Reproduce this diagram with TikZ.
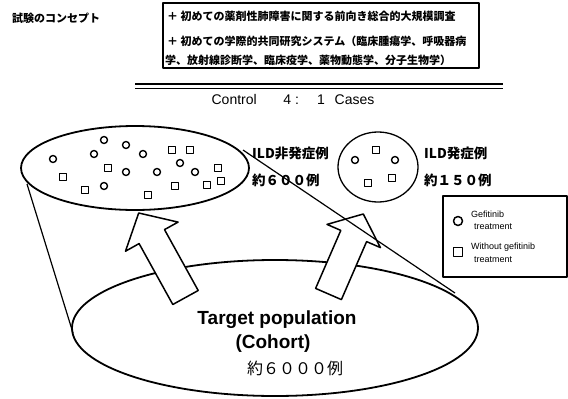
\documentclass[tikz,border=0pt]{standalone}
\usepackage{fontspec}
\setmainfont{Liberation Sans}
\newfontfamily\jp{Noto Sans CJK JP}
\begin{document}
\begin{tikzpicture}[x=1pt,y=-1pt,line join=round,
  mc/.style={circle,draw,line width=1.4pt,minimum size=7pt,inner sep=0pt},
  ms/.style={rectangle,draw,line width=1.4pt,minimum size=7pt,inner sep=0pt},
  lc/.style={circle,draw,line width=1.5pt,minimum size=9pt,inner sep=0pt},
  ls/.style={rectangle,draw,line width=1.5pt,minimum size=9pt,inner sep=0pt},
  blockarrow/.style={draw,fill=white,line width=1.5pt},
  jptxt/.style={anchor=west,inner sep=0pt,font=\jp\bfseries\fontsize{11}{13}\selectfont},
  lbl/.style={anchor=west,inner sep=0pt,font=\jp\bfseries\fontsize{13.5}{15}\selectfont},
  leg/.style={anchor=west,inner sep=0pt,font=\fontsize{9}{10}\selectfont},
  cone/.style={line width=1.2pt}]
\useasboundingbox (0,0) rectangle (568,399);

% header
\node[jptxt] (title) at (12,18) {試験のコンセプト};
\draw[line width=1.5pt] (163,3) rectangle (479,68);
\node[jptxt] (l1) at (167,16) {＋ 初めての薬剤性肺障害に関する前向き総合的大規模調査};
\node[jptxt] (l2) at (167,41) {＋ 初めての学際的共同研究システム（臨床腫瘍学、呼吸器病};
\node[jptxt] (l3) at (165,60) {学、放射線診断学、臨床疫学、薬物動態学、分子生物学）};

% double rule
\coordinate (r1a) at (135,84); \coordinate (r1b) at (503,84);
\coordinate (r2a) at (135,88); \coordinate (r2b) at (503,88);
\draw[line width=1.5pt] (r1a) -- (r1b);
\draw[line width=0.7pt] (r2a) -- (r2b);
\node[inner sep=0pt,font=\fontsize{14}{16}\selectfont] (ctrl) at (293,99) {Control\hspace{1.9em}4 :\hspace{1.3em}1\hspace{0.7em}Cases};

% bottom ellipse (population)
\draw[line width=1.8pt] (275,328) ellipse [x radius=203, y radius=68];

% ILD non-onset group
\draw[line width=1.8pt] (135,168) ellipse [x radius=114, y radius=42];
% small circle ILD onset group
\draw[line width=1.3pt] (378,167) ellipse [x radius=40, y radius=35];

% cone lines
\coordinate (ca) at (27,184); \coordinate (cb) at (73,333);
\draw[cone] (ca) -- (cb);

% markers in big ellipse
\foreach \p [count=\i] in {(53,159),(104,140),(126,145),(94,154),(143,154),(180,163),(126,172),(157,172),(195,172),(104,186)}
  \node[mc] (m\i) at \p {};
\foreach \p [count=\i] in {(172,150),(190,150),(108,168),(63,177),(218,168),(175,186),(207,185),(221,181),(85,190),(148,195)}
  \node[ms] (q\i) at \p {};
% markers in small circle
\node[mc] (sc1) at (355,160) {};
\node[mc] (sc2) at (395,160) {};
\node[ms] (sq1) at (376,150) {};
\node[ms] (sq2) at (392,178) {};
\node[ms] (sq3) at (368,183) {};

% block arrows
\draw[blockarrow] (138.7,213) -- (178.1,222.1) -- (164.5,229.6) -- (198.2,290.5) -- (172.8,304.5) -- (139.1,243.6) -- (125.5,251.2) -- cycle;
\draw[blockarrow] (363.3,214) -- (380.4,247.6) -- (366.6,241.6) -- (341.4,299.6) -- (315.6,288.4) -- (340.8,230.4) -- (327,224.4) -- cycle;

% diagonal cone line
\coordinate (da) at (243,150); \coordinate (db) at (455,293);
\draw[cone] (da) -- (db);

% group labels
\node[lbl] (n1) at (252,153) {ILD非発症例};
\node[lbl] (n2) at (252,180) {約６００例};
\node[lbl] (o1) at (424,153) {ILD発症例};
\node[lbl] (o2) at (424,180) {約１５０例};

% legend
\draw[line width=1.5pt] (443,196) rectangle (567,277);
\node[lc] (lgc) at (458,221) {};
\node[ls] (lgs) at (458,252) {};
\node[leg] (g1) at (471,214) {Gefitinib};
\node[leg] (g2) at (474,227) {treatment};
\node[leg] (g3) at (471,247) {Without gefitinib};
\node[leg] (g4) at (474,260) {treatment};

% population text
\node[inner sep=0pt,font=\bfseries\fontsize{19}{21}\selectfont] (tp) at (277,320) {Target population};
\node[inner sep=0pt,font=\bfseries\fontsize{19}{21}\selectfont] (co) at (273,344) {(Cohort)};
\node[inner sep=0pt,font=\jp\fontsize{16}{18}\selectfont] (pn) at (295,368) {約６０００例};
\end{tikzpicture}
\end{document}
